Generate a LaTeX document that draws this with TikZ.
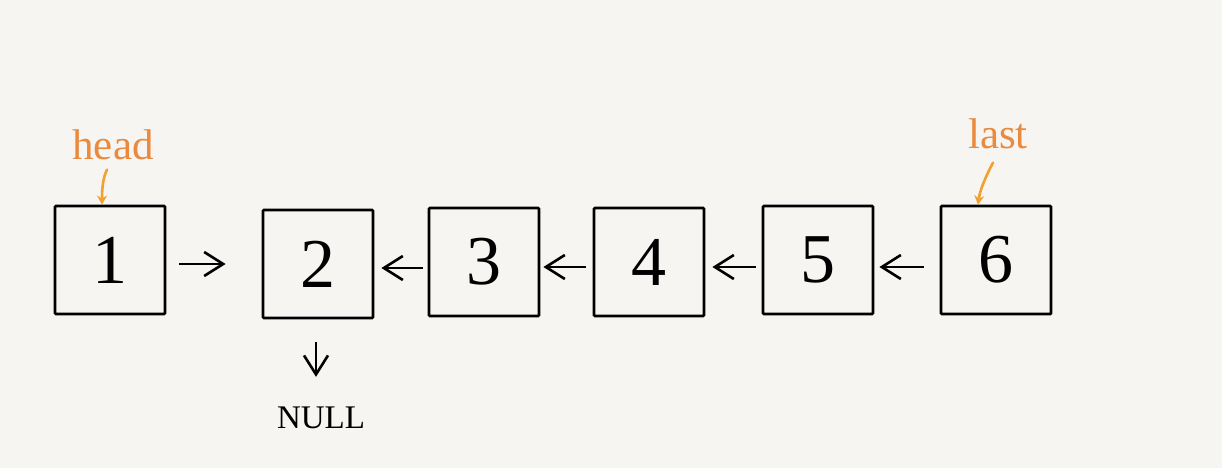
\documentclass[tikz,border=0pt]{standalone}
\usepackage{fontspec}
\setmainfont{Liberation Serif}
\usetikzlibrary{arrows.meta,calc}
\definecolor{bg}{HTML}{F6F5F2}
\definecolor{lbl}{HTML}{EA8A3E}
\definecolor{ptr}{HTML}{F2A02E}
\begin{document}
\begin{tikzpicture}[x=1pt,y=-1pt,
  box/.style={draw=black,line width=2.8pt,rounded corners=1pt,minimum width=110pt,minimum height=108pt,inner sep=0pt,font=\fontsize{70}{70}\selectfont},
  arr/.style={line width=2.6pt,-{Straight Barb[length=19pt,width=24pt,line width=2.6pt]}},
  lab/.style={text=lbl,font=\fontsize{43}{43}\selectfont},
  ptrarr/.style={draw=ptr,line width=2.6pt,line cap=round,-{Stealth[length=9pt,width=10pt]}}]
\fill[bg] (0,0) rectangle (1222,468);
\useasboundingbox (0,0) rectangle (1222,468);
\node[box] (b1) at (110,260) {1};
\node[box] (b2) at (318,264) {2};
\node[box] (b3) at (484,262) {3};
\node[box] (b4) at (649,262) {4};
\node[box] (b5) at (818,260) {5};
\node[box] (b6) at (996,260) {6};
\node[lab] (head) at (113,145) {head};
\node[lab] (last) at (998,134) {last};
\node[anchor=base,font=\fontsize{33}{33}\selectfont] (null) at (321,428) {NULL};
\draw[arr,shorten <=13pt,shorten >=36pt] (b1.east |- 0,264) -- (b2.west);
\draw[arr,shorten <=5pt,shorten >=7pt] (b3.west |- 0,268) -- (b2.east |- 0,268);
\draw[arr,shorten <=7pt,shorten >=3pt] (b4.west |- 0,267) -- (b3.east |- 0,267);
\draw[arr,shorten <=6pt,shorten >=7pt] (b5.west |- 0,267) -- (b4.east |- 0,267);
\draw[arr,shorten <=16pt,shorten >=5pt] (b6.west |- 0,267) -- (b5.east |- 0,267);
\draw[arr,shorten <=23pt,shorten >=26pt] (b2.south -| 316,0) -- (null.north -| 316,0);
\draw[ptrarr] (head.south -| 107,0) ++(0,6) .. controls (103,178) and (102,188) .. (b1.north -| 102,0);
\draw[ptrarr] (last.south -| 993,0) ++(0,10) .. controls (985,178) and (980,190) .. (b6.north -| 978,0);
\end{tikzpicture}
\end{document}
